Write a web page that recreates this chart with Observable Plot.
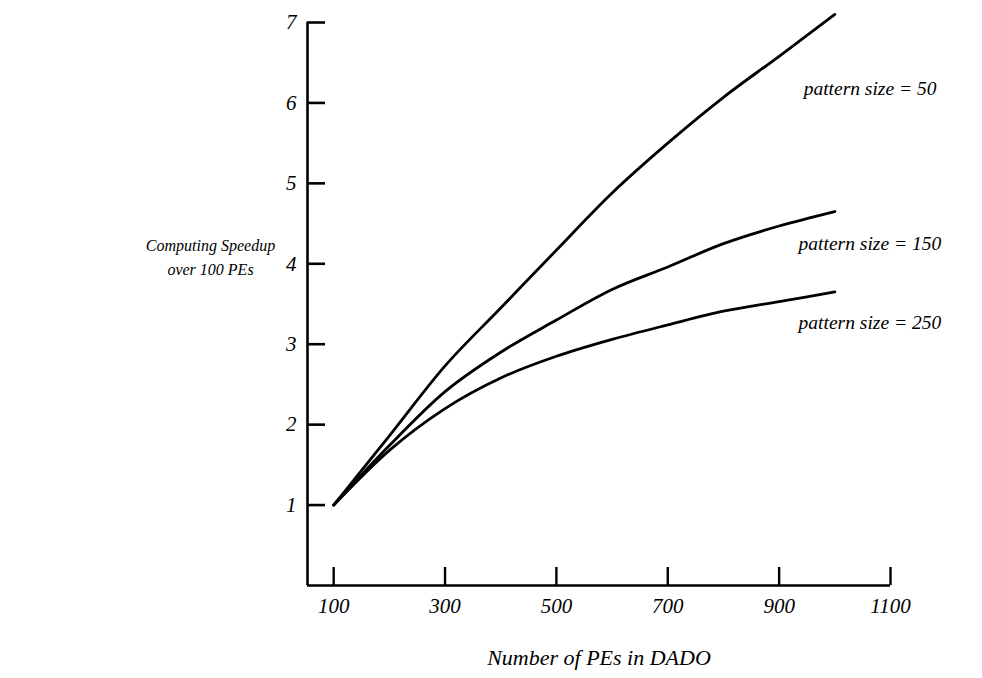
<!DOCTYPE html>
<html>
<head>
<meta charset="utf-8">
<script src="https://cdn.jsdelivr.net/npm/d3@7"></script>
<script src="https://cdn.jsdelivr.net/npm/@observablehq/plot@0.6"></script>
<style>
  html, body { margin: 0; padding: 0; background: #fff; }
  #chart { width: 982px; height: 678px; }
</style>
</head>
<body>
<div id="chart"></div>
<script>
// ---- data ----
const numPEs = [100, 200, 300, 400, 500, 600, 700, 800, 900, 1000];
const speedup50  = [1.0, 1.86, 2.73, 3.45, 4.17, 4.88, 5.50, 6.07, 6.58, 7.10];
const speedup150 = [1.0, 1.74, 2.41, 2.90, 3.30, 3.68, 3.96, 4.25, 4.47, 4.65];
const speedup250 = [1.0, 1.68, 2.20, 2.58, 2.85, 3.06, 3.24, 3.41, 3.53, 3.65];
const seriesNames = ["pattern size = 50", "pattern size = 150", "pattern size = 250"];
const xTicks = [100, 300, 500, 700, 900, 1100];
const yTicks = [1, 2, 3, 4, 5, 6, 7];
const xDomain = [53, 1100];
const yDomain = [0, 7];
// annotation anchors (data coordinates)
const labelX = [944, 935, 935];
const labelY = [6.18, 4.25, 3.27];
const xTitle = "Number of PEs in DADO";
const yTitle = "Computing Speedup\nover 100 PEs";

const seriesValues = [speedup50, speedup150, speedup250];
const rows = seriesValues.flatMap((vals, i) =>
  numPEs.map((x, j) => ({series: seriesNames[i], x, y: vals[j]})));
const labels = seriesNames.map((name, i) => ({name, x: labelX[i], y: labelY[i]}));

const font = "'Liberation Serif', 'Times New Roman', serif";
const fmt = d => String(d);

const chart = Plot.plot({
  width: 982,
  height: 678,
  marginLeft: 307,
  marginRight: 92,
  marginTop: 22,
  marginBottom: 93,
  style: {fontFamily: font, fontStyle: "italic", fontSize: "19px", color: "#000", background: "#fff"},
  x: {domain: xDomain, ticks: xTicks, label: null},
  y: {domain: yDomain, ticks: yTicks, label: null},
  marks: [
    Plot.ruleX([xDomain[0]], {y1: yDomain[0], y2: yDomain[1], stroke: "#000", strokeWidth: 2.6}),
    Plot.ruleY([yDomain[0]], {x1: xDomain[0], x2: xDomain[1], stroke: "#000", strokeWidth: 2.6}),
    Plot.axisY(yTicks, {tickSize: -18, tickPadding: 29, strokeWidth: 2.6, label: null, fontSize: 21, tickFormat: fmt}),
    Plot.axisX(xTicks, {tickSize: -18, tickPadding: 31, strokeWidth: 2.4, label: null, fontSize: 21, tickFormat: fmt}),
    Plot.line(rows, {x: "x", y: "y", z: "series", stroke: "#000", strokeWidth: 2.8, curve: "monotone-x"}),
    Plot.text(labels, {x: "x", y: "y", text: "name", textAnchor: "start", fontSize: 19.5, fill: "#000"}),
    Plot.text([xTitle], {frameAnchor: "bottom", dy: 79, fontSize: 22, fill: "#000"}),
    Plot.text([yTitle], {frameAnchor: "left", textAnchor: "middle", dx: -97, dy: -49, fontSize: 16, lineHeight: 1.55, fill: "#000"})
  ]
});
document.getElementById("chart").appendChild(chart);
</script>
</body>
</html>
